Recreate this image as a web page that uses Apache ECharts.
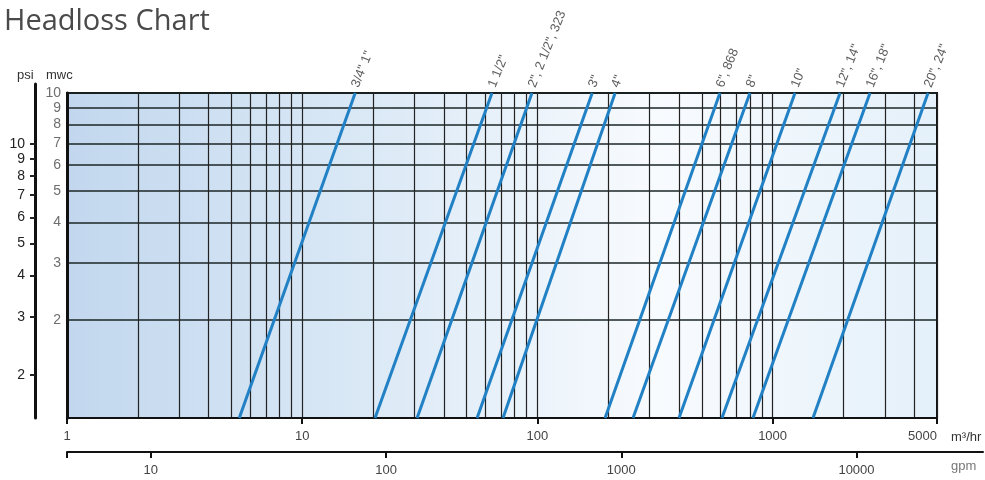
<!DOCTYPE html>
<html><head><meta charset="utf-8">
<script src="https://cdn.jsdelivr.net/npm/echarts@6/dist/echarts.min.js"></script>
<style>html,body{margin:0;padding:0;background:#fff}#c{width:985px;height:480px}</style>
</head><body><div id="c"></div>
<script>
// ---- data ----
const pipeNames = ['3/4" 1"', '1 1/2"', '2", 2 1/2", 323', '3"', '4"', '6", 868', '8"', '10"', '12", 14"', '16", 18"', '20", 24"'];
// flow (m3/hr) where each pipe line crosses 1 mwc and 10 mwc
const flowAt1mwc  = [5.4, 20.4, 30.8, 55.4, 71.4, 194, 255, 400, 609, 825, 1485];
const flowAt10mwc = [16.8, 64.1, 94.8, 171, 214, 597, 801, 1245, 1935, 2595, 4580];
const headLow = 1, headHigh = 10;
const flowMin = 1, flowMax = 5000;
const flowGrid = [1,2,3,4,5,6,7,8,9,10,20,30,40,50,60,70,80,90,100,200,300,400,500,600,700,800,900,1000,2000,3000,4000,5000];
const flowTicks = [1, 10, 100, 1000, 5000];
const headGrid = [1,2,3,4,5,6,7,8,9,10];
const headTicks = [2,3,4,5,6,7,8,9,10];
const psiTicks = [2,3,4,5,6,7,8,9,10];
const gpmTicks = [10, 100, 1000, 10000];
const M3H_TO_GPM = 4.4029;
const psiAxisMin = 1.48;     // bottom of the psi scale line
const psiAxisMax = 15.2;     // top of the psi scale line
const gpmAxisMax = 34500;    // right end of the gpm scale line

const chart = echarts.init(document.getElementById('c'));
const fmt = v => String(Math.round(v));
const series = [];
pipeNames.forEach((n, i) => {
  series.push({
    type: 'line', name: n, xAxisIndex: 0, yAxisIndex: 0, symbol: 'none', silent: true, z: 5,
    lineStyle: { color: '#2181c4', width: 3 },
    data: [[flowAt1mwc[i], headLow], [flowAt10mwc[i], headHigh]]
  });
});
series.push({
  type: 'scatter', xAxisIndex: 0, yAxisIndex: 0, symbolSize: 0.1, silent: true, clip: false, z: 6,
  data: pipeNames.map((n, i) => ({ name: n, value: [flowAt10mwc[i], headHigh] })),
  label: { show: true, formatter: '{b}', rotate: 68, position: 'top', distance: 6, align: 'left', verticalAlign: 'middle',
           color: '#333', fontSize: 13, fontFamily: 'Liberation Sans' }
});

chart.setOption({
  animation: false,
  title: [
    { text: 'Headloss Chart', left: 4, top: 7, padding: 0, textStyle: { fontFamily: 'Open Sans', fontSize: 29, fontWeight: 'normal', color: '#4a4a4a' } },
    { text: 'psi', left: 17, top: 69, padding: 0, textStyle: { fontFamily: 'Liberation Sans', fontSize: 13, fontWeight: 'normal', color: '#333' } },
    { text: 'mwc', left: 46, top: 69, padding: 0, textStyle: { fontFamily: 'Liberation Sans', fontSize: 13, fontWeight: 'normal', color: '#333' } },
    { text: 'm³/hr', left: 951, top: 431, padding: 0, textStyle: { fontFamily: 'Liberation Sans', fontSize: 13, fontWeight: 'normal', color: '#333' } },
    { text: 'gpm', left: 951, top: 460, padding: 0, textStyle: { fontFamily: 'Liberation Sans', fontSize: 13, fontWeight: 'normal', color: '#777' } }
  ],
  grid: [
    { left: 67, right: 48, top: 93, bottom: 62, show: true, borderColor: '#111', borderWidth: 2,
      backgroundColor: { type: 'linear', x: 0, y: 0, x2: 1, y2: 0,
        colorStops: [ { offset: 0, color: '#c2d7ee' }, { offset: 0.35, color: '#dbe9f6' }, { offset: 0.68, color: '#f8fbfe' }, { offset: 1, color: '#e4f0fa' } ] } },
    { left: 67, right: 2, bottom: 28, height: 1, show: false },
    { left: 35, width: 1, top: 84, bottom: 62, show: false }
  ],
  xAxis: [
    { type: 'log', gridIndex: 0, min: flowMin, max: flowMax, position: 'bottom',
      axisLine: { show: false }, axisTick: { show: false, customValues: flowGrid }, axisLabel: { show: false },
      splitLine: { show: true, lineStyle: { color: '#222', width: 1.2 } } },
    { type: 'log', gridIndex: 0, min: flowMin, max: flowMax, position: 'bottom',
      axisLine: { show: true, lineStyle: { color: '#111', width: 2 } },
      axisTick: { show: true, customValues: flowTicks, length: 6, lineStyle: { color: '#111', width: 2 } },
      axisLabel: { customValues: flowTicks, formatter: fmt, color: '#444', fontSize: 13, margin: 12, fontFamily: 'Liberation Sans', alignMaxLabel: 'right' },
      splitLine: { show: false } },
    { type: 'log', gridIndex: 1, min: flowMin * M3H_TO_GPM, max: gpmAxisMax, position: 'bottom',
      axisLine: { show: true, lineStyle: { color: '#111', width: 2 } },
      axisTick: { show: true, customValues: [flowMin * M3H_TO_GPM].concat(gpmTicks), length: 6, lineStyle: { color: '#111', width: 2 } },
      axisLabel: { customValues: gpmTicks, formatter: fmt, color: '#444', fontSize: 13, margin: 12, fontFamily: 'Liberation Sans' },
      splitLine: { show: false } },
    { type: 'value', gridIndex: 2, show: false }
  ],
  yAxis: [
    { type: 'log', gridIndex: 0, min: headLow, max: headHigh,
      axisLine: { show: true, lineStyle: { color: '#111', width: 3 } },
      axisTick: { show: false, customValues: headGrid },
      axisLabel: { customValues: headTicks, formatter: fmt, color: '#6e6e6e', fontSize: 14, margin: 6, fontFamily: 'Liberation Sans Narrow, Liberation Sans' },
      splitLine: { show: true, lineStyle: { color: '#1b2626', width: 1.5 } } },
    { type: 'value', gridIndex: 1, show: false },
    { type: 'log', gridIndex: 2, min: psiAxisMin, max: psiAxisMax,
      axisLine: { show: true, lineStyle: { color: '#111', width: 3 } },
      axisTick: { show: true, customValues: psiTicks, length: 5, lineStyle: { color: '#222', width: 2 } },
      axisLabel: { customValues: psiTicks, formatter: fmt, color: '#222', fontSize: 14, margin: 10, fontFamily: 'Liberation Sans' },
      splitLine: { show: false } }
  ],
  series: series
});
</script></body></html>
